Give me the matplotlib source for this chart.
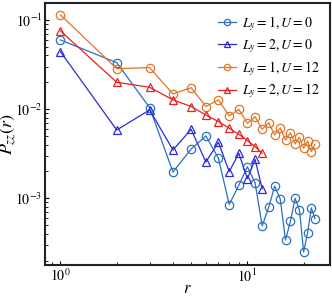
import matplotlib
matplotlib.use("Agg")
import matplotlib.pyplot as plt

plt.rcParams['font.family'] = 'STIXGeneral'
plt.rcParams['mathtext.fontset'] = 'stix'

# distances
r_1d = list(range(1, 24))
r_2d = list(range(1, 13))

# P_zz(r)
p_ly1_u0 = [0.0597, 0.0332, 0.0104, 0.00197, 0.00357, 0.0050, 0.00281, 0.00085,
            0.0014, 0.00226, 0.00149, 0.00049, 0.00079, 0.00137, 0.00098, 0.00034,
            0.00055, 0.0010, 0.00074, 0.00025, 0.00041, 0.00078, 0.00059]
p_ly2_u0 = [0.0441, 0.00583, 0.0098, 0.00348, 0.00594, 0.00255, 0.00425, 0.00199,
            0.0032, 0.00166, 0.00273, 0.00128]
p_ly1_u12 = [0.114, 0.0284, 0.0292, 0.0148, 0.0174, 0.0107, 0.0127, 0.00838,
             0.00996, 0.00693, 0.00824, 0.00594, 0.00706, 0.00513, 0.00615, 0.00451,
             0.00545, 0.00407, 0.00483, 0.00364, 0.0044, 0.00334, 0.00403]
p_ly2_u12 = [0.0753, 0.020, 0.0176, 0.0127, 0.0107, 0.0086, 0.00725, 0.0061,
             0.00522, 0.00443, 0.0038, 0.0032]

fig = plt.figure(figsize=(3.32, 2.99), dpi=100)
ax = fig.add_axes([0.136, 0.114, 0.859, 0.876])

kw = dict(markerfacecolor='none', markersize=6, linewidth=0.9, markeredgewidth=0.9)
ax.plot(r_1d, p_ly1_u0, 'o-', color='#2a6fc0', label=r'$L_y=1, U=0$', **kw)
ax.plot(r_2d, p_ly2_u0, '^-', color='#2b2bd6', label=r'$L_y=2, U=0$', **kw)
ax.plot(r_1d, p_ly1_u12, 'o-', color='#e0752a', label=r'$L_y=1, U=12$', **kw)
ax.plot(r_2d, p_ly2_u12, '^-', color='#e82020', label=r'$L_y=2, U=12$', **kw)

ax.set_xscale('log')
ax.set_yscale('log')
ax.set_xlim(0.828, 27.8)
ax.set_ylim(1.79e-4, 0.155)

ax.set_xlabel(r'$r$', fontsize=12, labelpad=-3)
ax.set_ylabel(r'$P_{zz}(r)$', fontsize=13)
ax.yaxis.set_label_coords(-0.093, 0.5)
ax.tick_params(which='both', direction='in', labelsize=10)
ax.tick_params(which='major', length=3, pad=2)
ax.tick_params(which='minor', length=2)
for s in ax.spines.values():
    s.set_linewidth(1.5)
    s.set_color('#222222')

ax.legend(loc='upper right', frameon=False, fontsize=10, handlelength=1.3,
          markerscale=0.75, labelspacing=0.3, handletextpad=0.4,
          borderaxespad=0.4)

fig.savefig('out.png', dpi=100)
